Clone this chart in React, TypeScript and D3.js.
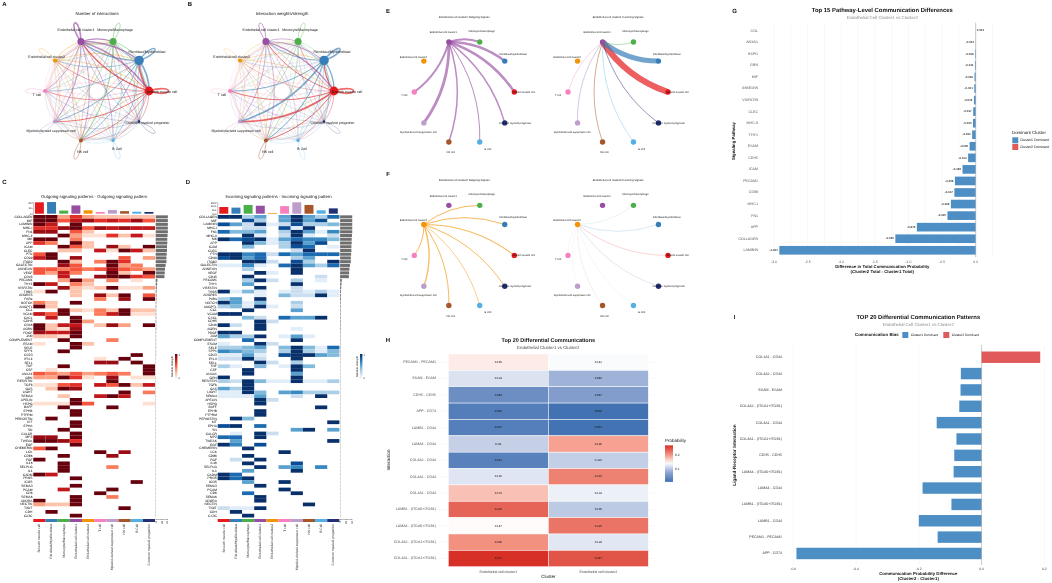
import React, { useEffect, useRef } from 'react';
import * as d3 from 'd3';

const cells = [
  'Smooth muscle cell', 'Fibroblast/Myofibroblast', 'Monocyte/Macrophage',
  'Endothelial cell cluster1', 'Endothelial cell cluster2', 'T cell',
  'Myeloid-derived suppressor cell', 'NK cell', 'B Cell', 'Common myeloid progenitor'
];
const cellColors = ['#e41a1c', '#377eb8', '#4daf4a', '#984ea3', '#f29403', '#f781bf', '#bc9dcc', '#a65628', '#54b0e4', '#222f75'];

// interaction counts, source in rows
const countMatrix = [
  [3, 3.5, 1.2, 2.5, 1, 1, 1.5, 1.2, 0.8, 0.8],
  [3, 2.5, 1.2, 2.5, 1, 1, 1.5, 1.2, 0.8, 0.8],
  [1, 1, 1, 1.2, 0.4, 0.5, 0.8, 1.5, 0.5, 0.5],
  [3, 2.5, 2, 3, 0.8, 1.2, 1.5, 1.2, 1, 1],
  [0.8, 0.8, 0.5, 0.8, 0.5, 0.4, 0.5, 0.5, 0.4, 0.4],
  [0.4, 0.4, 0.5, 0.5, 0.2, 0.5, 0.6, 0.4, 0.3, 0.3],
  [0.8, 0.6, 0.8, 0.8, 0.3, 0.5, 0.8, 0.6, 0.4, 0.4],
  [0.5, 0.4, 0.5, 0.6, 0.2, 0.4, 0.5, 1, 0.3, 0.3],
  [0.3, 0.3, 0.3, 0.4, 0.2, 0.3, 0.3, 0.3, 0.5, 0.2],
  [0.3, 0.3, 0.3, 0.4, 0.2, 0.3, 0.3, 0.3, 0.2, 0.6]
];
const weightMatrix = [
  [3, 2.2, 0.8, 1.5, 0.5, 1.6, 3, 1.7, 0.6, 0.8],
  [2.2, 3, 0.8, 1.5, 0.5, 1.6, 3, 1.7, 0.6, 1],
  [0.5, 0.4, 0.8, 0.5, 0.2, 0.3, 0.7, 0.8, 0.2, 0.2],
  [2.2, 1.5, 1, 1.4, 0.4, 0.8, 1.1, 0.9, 0.5, 0.5],
  [0.6, 0.6, 0.3, 0.5, 0.3, 0.3, 0.4, 0.5, 0.2, 0.3],
  [0.3, 0.3, 0.3, 0.3, 0.1, 0.3, 0.4, 0.3, 0.2, 0.2],
  [0.5, 0.4, 0.5, 0.5, 0.2, 0.4, 0.6, 0.4, 0.3, 0.3],
  [0.3, 0.3, 0.3, 0.4, 0.1, 0.3, 0.4, 0.9, 0.2, 0.2],
  [0.2, 0.2, 0.2, 0.3, 0.1, 0.2, 0.2, 0.2, 0.3, 0.1],
  [0.2, 0.2, 0.2, 0.2, 0.1, 0.2, 0.2, 0.2, 0.1, 0.4]
];
const countNodeSize = [4.4, 4.7, 3.5, 3.5, 2, 2, 2, 2, 1.6, 1.2];
const weightNodeSize = [4.4, 4.7, 3.5, 3.5, 2, 2, 2, 2, 1.6, 1.2];

const ec1Outgoing = [2.5, 2.5, 2, 0, 0, 2, 2.8, 1.5, 1, 1.5];
const ec1Incoming = [6, 5, 0.6, 0, 0, 0.5, 0.8, 0.7, 0.5, 0.7];
const ec2Outgoing = [1.1, 1, 1, 0, 0, 1, 1.3, 1, 0.7, 1];
const ec2Incoming = [0.6, 0.6, 0.4, 0, 0, 0.3, 0.3, 0.3, 0.3, 0.4];

const pathways = [
  'COLLAGEN', 'MIF', 'LAMININ', 'MHC-I', 'FN1', 'MHC-II', 'MK', 'APP', 'ICAM', 'CLEC', 'PTN', 'CD99', 'ITGB2',
  'GALECTIN', 'ANNEXIN', 'VEGF', 'CD45', 'PECAM1', 'THY1', 'VISFATIN', 'THBS', 'ADGRE5', 'PARs', 'NOTCH', 'ANGPTL',
  'CCL', 'VCAM', 'CXCL', 'CDH5', 'CD46', 'AGRN', 'PDGF', 'JAM', 'COMPLEMENT', 'ESAM', 'SELE', 'SPP1', 'CD23', 'IFN-II',
  'SELL', 'TNF', 'CSF', 'ANXA1', 'GRN', 'RESISTIN', 'TGFb', 'GAS', 'LIGHT', 'SEMA4', 'APELIN', 'HSPG', 'BAFF', 'EPHB',
  'PTPRM', 'PERIOSTIN', 'KIT', 'EPHA', 'SN', 'CALCR', 'MPZ', 'TWEAK', 'EGF', 'CHEMERIN', 'LCK', 'CD86', 'FGF', 'IL16',
  'SELPLG', 'IL1', 'CADM', 'PROS', 'ICOS', 'SEMA3', 'PCAM', 'CD6', 'SEMA6', 'ADORA', 'NECTIN', 'TIGIT', 'CDH', 'CX3C'
];
// one digit per cell type, 0 = empty, 9 = relative strength 1
const outgoingRows = [
  '9936322222', '9957867685', '9709000000', '6689587877', '8805200000', '0093116271', '9904000000', '6409200000',
  '0095208209', '0022071972', '5900000000', '7908000503', '0092049600', '0085009340', '5545458543', '5374009209',
  '0070089965', '0039304010', '9704200000', '0082129113', '1902000000', '0002082905', '0000040809', '4209000000',
  '9200000000', '0092142922', '7590047911', '0709000000', '0009300000', '9277028309', '9218000000', '8779000000',
  '2219000000', '0090004000', '1009200000', '0009000000', '0090000000', '0000000090', '0000010900', '0000088090',
  '0090000009', '0100000009', '5435345409', '3396108011', '0000009000', '1156075927', '0298000000', '0000000904',
  '0020079700', '0009000000', '1119500001', '0090009000', '0009000000', '0009000000', '0900000000', '0009000000',
  '0009000000', '0090000000', '0009000000', '8809000000', '9986000000', '0009000000', '5900000000', '0000090800',
  '0090008000', '9000000000', '0090000000', '0090004000', '0090000000', '9700000000', '0009000000', '0000000090',
  '0009000000', '0070009000', '0000090000', '0009004000', '9009000000', '3229000000', '0000000900', '0900000000',
  '0009000000'
];
const incomingRows = [
  '9935059537', '0083059580', '8529128334', '0022081900', '7445039516', '0091029102', '9789157664', '0094139580',
  '0040038701', '0000002900', '9967275777', '8957003500', '0099208309', '1161079537', '0030009000', '0009109000',
  '0090000020', '0039203010', '0050009000', '0009002000', '9141012131', '0001042291', '3509000000', '9514003000',
  '3419102000', '0090005000', '9900000000', '0042075590', '0009200000', '9209000000', '0009001000', '9900000000',
  '5339015100', '0070009000', '1009200000', '3345049417', '6543039314', '1151089954', '2292009000', '0009203000',
  '3104019400', '0090009000', '0090005000', '9000009000', '3294119113', '0090000000', '5390000000', '1194056333',
  '1115002090', '0009200000', '0009000000', '0000000090', '0009000000', '0009000000', '0940000000', '0000000009',
  '8907000000', '0000005905', '0109200000', '7709000000', '0500000009', '9608000000', '0090000000', '0000090000',
  '0090000000', '0209000000', '0090008000', '0009056060', '0050009000', '9700000000', '9790000000', '0050090000',
  '0009000000', '0000090000', '0070009000', '0009000000', '0009000000', '0000000900', '2119000000', '0900000000',
  '0090000000'
];
const outgoingTop = [20, 20.5, 5.5, 14.5, 6, 3, 6.5, 4.5, 3.5, 3];
const incomingTop = [8.8, 8, 11.5, 10.5, 1, 10, 15, 11.5, 4.5, 7];
const outgoingTotals = [
  43, 43, 43, 43, 43, 42, 41, 41, 40, 40, 39, 38, 38, 35, 33, 32, 31, 6, 5, 4, 3, 3, 3, 2, 2, 2, 2, 2, 2, 2, 2, 1.5, 1.5,
  1.5, 1.5, 1.5, 1.5, 1.5, 1, 1, 1, 1, 1, 1, 1, 1, 1, 1, 1, 1, 1, 1, 1, 1, 1, 1, 1, 1, 1, 1, 1, 1, 1, 1, 1, 1, 1, 1, 1,
  1, 1, 1, 1, 1, 1, 1, 1, 1, 1, 1, 1
];
const incomingTotals = [
  43, 43, 43, 43, 43, 42, 41, 41, 40, 40, 39, 38, 38, 35, 33, 32, 31, 6, 5, 4, 3, 3, 3, 2, 2, 2, 2, 2, 2, 2, 2, 1.5, 1.5,
  1.5, 1.5, 1.5, 1.5, 1.5, 1, 1, 1, 1, 1, 1, 1, 1, 1, 1, 1, 1, 1, 1, 1, 1, 1, 1, 1, 1, 1, 1, 1, 1, 1, 1, 1, 1, 1, 1, 1,
  1, 1, 1, 1, 1, 1, 1, 1, 1, 1, 1, 1
];

const lrPairs = [
  'PECAM1 - PECAM1', 'ESAM - ESAM', 'CDH5 - CDH5', 'APP - CD74', 'LAMB1 - CD44', 'LAMA4 - CD44', 'COL4A2 - CD44',
  'COL4A1 - CD44', 'COL1A1 - CD44', 'LAMB1 - (ITGA6+ITGB1)', 'LAMA4 - (ITGA6+ITGB1)', 'COL4A2 - (ITGA1+ITGB1)',
  'COL4A1 - (ITGA1+ITGB1)'
];
const probCluster1 = [0.156, 0.124, 0.048, 0.026, 0.027, 0.111, 0.031, 0.126, 0.179, 0.236, 0.147, 0.206, 0.271];
const probCluster2 = [0.142, 0.089, 0.067, 0.01, 0.011, 0.196, 0.11, 0.216, 0.134, 0.106, 0.225, 0.128, 0.247];

const topPathways = [
  'COL', 'ANXA1', 'HSPG', 'GRN', 'MIF', 'ANNEXIN', 'VISFATIN', 'CLEC', 'MHC-II', 'THY1', 'ESAM', 'CDH5', 'ICAM',
  'PECAM1', 'CD99', 'MHC-I', 'FN1', 'APP', 'COLLAGEN', 'LAMININ'
];
const pathwayDiff = [
  0.001, -0.002, -0.008, -0.011, -0.018, -0.021, -0.026, -0.037, -0.04, -0.053, -0.09, -0.113, -0.196, -0.309, -0.317,
  -0.369, -0.42, -0.875, -1.195, -2.921
];

const diffPairs = [
  'COL1A1 - CD44', 'COL4A2 - CD44', 'ESAM - ESAM', 'COL4A2 - (ITGA1+ITGB1)', 'COL4A1 - CD44', 'COL4A1 - (ITGA1+ITGB1)',
  'CDH5 - CDH5', 'LAMA4 - (ITGA6+ITGB1)', 'LAMA4 - CD44', 'LAMB1 - (ITGA6+ITGB1)', 'LAMB1 - CD44', 'PECAM1 - PECAM1',
  'APP - CD74'
];
const pairDiff = [0.187, -0.066, -0.067, -0.071, -0.143, -0.08, -0.087, -0.089, -0.188, -0.096, -0.2, -0.14, -0.59];

const FONT = '"Liberation Sans", Arial, sans-serif';
const BLUE = '#4d8fc4';
const RED = '#e05a5a';

// label anchors relative to the ring centre
const ringLabels: [number, number][] = [
  [65, 0.7], [50, -39], [18, -61.3], [-21, -61], [-50.3, -34.3], [-60, 3.7], [-46, 39.7], [-14.3, 60.7], [20, 58], [50.5, 32]
];
const smallLabels: [number, number][] = [
  [59.4, 0], [48.7, -38], [17.4, -60.7], [-21, -59.3], [-51, -34.7], [-60, 3.7], [-46, 40.3], [-13.6, 60.7], [23.7, 57], [50.7, 31]
];

type Sel = d3.Selection<any, any, any, any>;

const txt = (g: Sel, x: number, y: number, s: string, size: number, opts: any = {}) =>
  g.append('text')
    .attr('x', x).attr('y', y)
    .attr('font-size', size)
    .attr('font-family', FONT)
    .attr('text-anchor', opts.anchor || 'middle')
    .attr('dominant-baseline', 'middle')
    .attr('font-weight', opts.bold ? 700 : 400)
    .attr('fill', opts.fill || '#111')
    .attr('transform', opts.rotate ? `rotate(${opts.rotate},${x},${y})` : null)
    .text(s);

function edgePath(a: number[], b: number[], curve: number) {
  const dx = b[0] - a[0];
  const dy = b[1] - a[1];
  const path = d3.path();
  path.moveTo(a[0], a[1]);
  path.quadraticCurveTo((a[0] + b[0]) / 2 + dy * curve, (a[1] + b[1]) / 2 - dx * curve, b[0], b[1]);
  return path.toString();
}

function ringPositions(cx: number, cy: number, rx: number, ry: number) {
  const angle = d3.scaleLinear().domain([0, cells.length]).range([0, -2 * Math.PI]);
  return cells.map((_, i) => [cx + rx * Math.cos(angle(i)), cy + ry * Math.sin(angle(i))]);
}

function drawCircle(svg: Sel, cx: number, cy: number, title: string, matrix: number[][], sizes: number[]) {
  const g = svg.append('g');
  const pos = ringPositions(cx, cy, 52, 52);
  matrix.forEach((row, i) => row.forEach((v, j) => {
    if (i === j) {
      const ux = (pos[i][0] - cx) / 52;
      const uy = (pos[i][1] - cy) / 52;
      const L = 26;
      const w = 8;
      const c1 = [pos[i][0] + L * ux - w * uy, pos[i][1] + L * uy + w * ux];
      const c2 = [pos[i][0] + L * ux + w * uy, pos[i][1] + L * uy - w * ux];
      g.append('path')
        .attr('d', `M${pos[i]}C${c1} ${c2} ${pos[i]}`)
        .attr('fill', 'none').attr('stroke', cellColors[i])
        .attr('stroke-opacity', 0.65).attr('stroke-width', 0.15 + v * 0.5);
    } else {
      g.append('path')
        .attr('d', edgePath(pos[i], pos[j], 0.17))
        .attr('fill', 'none').attr('stroke', cellColors[i])
        .attr('stroke-opacity', 0.65).attr('stroke-width', 0.15 + v * 0.5);
    }
  }));
  g.selectAll('circle').data(pos).join('circle')
    .attr('cx', d => d[0]).attr('cy', d => d[1])
    .attr('r', (_, i) => sizes[i])
    .attr('fill', (_, i) => cellColors[i]);
  cells.forEach((c, i) => txt(g, cx + ringLabels[i][0], cy + ringLabels[i][1], c, 3.5));
  txt(g, cx, 14, title, 4.3);
}

function drawStar(svg: Sel, cx: number, cy: number, title: string, focus: number, widths: number[], outgoing: boolean, opacity: number) {
  const g = svg.append('g');
  const pos = ringPositions(cx, cy, 50, 52.6);
  widths.forEach((w, i) => {
    if (!w) return;
    const src = outgoing ? focus : i;
    const dst = outgoing ? i : focus;
    g.append('path')
      .attr('d', edgePath(pos[src], pos[dst], 0.17))
      .attr('fill', 'none').attr('stroke', cellColors[src])
      .attr('stroke-opacity', opacity).attr('stroke-width', w);
  });
  g.selectAll('circle').data(pos).join('circle')
    .attr('cx', d => d[0]).attr('cy', d => d[1]).attr('r', 2.7)
    .attr('fill', (_, i) => cellColors[i]);
  cells.forEach((c, i) => txt(g, cx + smallLabels[i][0], cy + smallLabels[i][1], c, 2.6));
  txt(g, cx, cy - 75, title, 2.75);
}

function drawPatternHeatmap(svg: Sel, x0: number, rows: string[], top: number[], totals: number[], topTicks: number[], topFormat: (d: number) => string, topMax: number, ramp: (t: number) => string, title: string, barTicks: number[]) {
  const g = svg.append('g');
  const x1 = x0 + 121.7;
  const x = d3.scaleBand<number>().domain(d3.range(cells.length)).range([x0, x1]);
  const y = d3.scaleBand<number>().domain(d3.range(pathways.length)).range([215, 517.5]);

  rows.forEach((row, r) => row.split('').forEach((d, c) => {
    if (d === '0') return;
    g.append('rect')
      .attr('x', x(c)!).attr('y', y(r)!)
      .attr('width', x.bandwidth()).attr('height', y.bandwidth())
      .attr('fill', ramp(+d / 9));
  }));

  const labels = g.append('g').attr('transform', `translate(${x0 - 0.8},0)`)
    .call(d3.axisLeft(y).tickSize(0).tickPadding(0).tickFormat(i => pathways[i as number]));
  labels.select('.domain').remove();
  labels.attr('font-size', 3.3).attr('font-family', FONT);

  // annotations
  const yTop = d3.scaleLinear().domain([0, topMax]).range([213.7, 202.3]);
  g.selectAll('rect.top').data(top).join('rect').attr('class', 'top')
    .attr('x', (_, i) => x(i)! + 1.6).attr('width', x.bandwidth() - 3.2)
    .attr('y', d => yTop(d)).attr('height', d => yTop(0) - yTop(d))
    .attr('fill', (_, i) => cellColors[i]);
  const ax = g.append('g').attr('transform', `translate(${x0 - 0.4},0)`)
    .call(d3.axisLeft(yTop).tickValues(topTicks).tickSize(0.8).tickPadding(0.6).tickFormat(d => topFormat(d as number)));
  ax.attr('font-size', 2.6).attr('font-family', FONT);
  ax.selectAll('path,line').attr('stroke-width', 0.25);

  cells.forEach((c, i) => {
    g.append('rect').attr('x', x(i)!).attr('y', 519).attr('width', x.bandwidth()).attr('height', 3)
      .attr('fill', cellColors[i]);
    txt(g, x(i)! + x.bandwidth() / 2, 524, c, 3.3, { anchor: 'end', rotate: -90 });
  });

  const xBar = d3.scaleLinear().domain([0, 40]).range([x1 + 0.7, x1 + 12]);
  g.selectAll('rect.total').data(totals).join('rect').attr('class', 'total')
    .attr('x', xBar(0)).attr('y', (_, i) => y(i)! + 0.35)
    .attr('width', d => xBar(d) - xBar(0)).attr('height', y.bandwidth() - 0.7)
    .attr('fill', '#6e6e6e');
  const bx = g.append('g').attr('transform', 'translate(0,519)')
    .call(d3.axisBottom(xBar).tickValues(barTicks).tickSize(1).tickPadding(0.5));
  bx.attr('font-size', 2.6).attr('font-family', FONT);
  bx.selectAll('path,line').attr('stroke-width', 0.25);
  bx.selectAll('text').attr('transform', 'rotate(-90)').attr('text-anchor', 'end').attr('dy', '0.3em').attr('x', -2).attr('y', 0);

  txt(g, (x0 + x1) / 2, 197, title, 4.3);
}

function drawStrengthLegend(svg: Sel, x: number, ramp: (t: number) => string, id: string) {
  const g = svg.append('g');
  const grad = svg.append('defs').append('linearGradient').attr('id', id)
    .attr('x1', 0).attr('x2', 0).attr('y1', 1).attr('y2', 0);
  d3.range(0, 1.01, 0.2).forEach(t => grad.append('stop').attr('offset', t).attr('stop-color', ramp(t)));
  g.append('rect').attr('x', x).attr('y', 354).attr('width', 2.4).attr('height', 25).attr('fill', `url(#${id})`);
  txt(g, x - 3, 366.5, 'Relative strength', 2.8, { rotate: -90 });
  txt(g, x + 3.4, 355, '1', 2.6, { anchor: 'start' });
  txt(g, x + 3.4, 378, '0', 2.6, { anchor: 'start' });
}

function drawCommHeatmap(svg: Sel) {
  const g = svg.append('g');
  const x = d3.scaleBand<string>().domain(['Endothelial cell cluster1', 'Endothelial cell cluster2']).range([448.3, 648.3]);
  const y = d3.scaleBand<string>().domain(lrPairs).range([354, 566.7]);
  const color = d3.scaleLinear<string>()
    .domain([0.01, 0.08, 0.145, 0.2, 0.271])
    .range(['#4272b2', '#90a6d2', '#ffffff', '#f59a88', '#d73027']);

  lrPairs.forEach((p, i) => {
    g.append('line').attr('x1', 438).attr('x2', 658).attr('y1', y(p)! + y.bandwidth() / 2).attr('y2', y(p)! + y.bandwidth() / 2)
      .attr('stroke', '#ececec').attr('stroke-width', 0.3);
    [probCluster1[i], probCluster2[i]].forEach((v, c) => {
      const col = x.domain()[c];
      g.append('rect').attr('x', x(col)!).attr('y', y(p)!).attr('width', x.bandwidth()).attr('height', y.bandwidth())
        .attr('fill', color(v)).attr('stroke', '#fff').attr('stroke-width', 0.5);
      txt(g, x(col)! + x.bandwidth() / 2, y(p)! + y.bandwidth() / 2, v.toFixed(3), 2.9);
    });
    txt(g, 436, y(p)! + y.bandwidth() / 2, p, 3.6, { anchor: 'end', fill: '#4d4d4d' });
  });
  x.domain().forEach(c => txt(g, x(c)! + x.bandwidth() / 2, 571.7, c, 3.6, { fill: '#4d4d4d' }));
  txt(g, 548.3, 577.2, 'Cluster', 4.5);
  txt(g, 388.5, 460, 'Interaction', 4.5, { rotate: -90 });
  txt(g, 548.3, 340.3, 'Top 20 Differential Communications', 5.5, { bold: true });
  txt(g, 548.3, 347.5, 'Endothelial Cluster1 vs Cluster2', 4.4, { fill: '#444' });

  const legend = d3.scaleLinear().domain([0.1, 0.2]).range([469.3, 455.3]);
  const grad = svg.append('defs').append('linearGradient').attr('id', 'probGrad')
    .attr('x1', 0).attr('x2', 0).attr('y1', 1).attr('y2', 0);
  d3.range(0, 1.01, 0.1).forEach(t => grad.append('stop').attr('offset', t).attr('stop-color', color(0.01 + t * 0.261)));
  g.append('rect').attr('x', 665).attr('y', legend(0.271)).attr('width', 8).attr('height', legend(0.01) - legend(0.271))
    .attr('fill', 'url(#probGrad)');
  txt(g, 665, 441, 'Probability', 4.5, { anchor: 'start' });
  [0.1, 0.2].forEach(t => txt(g, 675, legend(t), String(t), 3.2, { anchor: 'start' }));
}

function drawPathwayBars(svg: Sel) {
  const g = svg.append('g');
  const x = d3.scaleLinear().domain([-3, 0]).range([774, 975.7]);
  const y = d3.scaleBand<string>().domain(topPathways).range([23.5, 257.5]).padding(0.25);
  d3.range(-3, 0.26, 0.25).forEach(t => g.append('line')
    .attr('x1', x(t)).attr('x2', x(t)).attr('y1', 22.7).attr('y2', 257.3)
    .attr('stroke', '#ececec').attr('stroke-width', 0.35));
  g.selectAll('rect').data(pathwayDiff).join('rect')
    .attr('x', d => Math.min(x(d), x(0))).attr('width', d => Math.abs(x(d) - x(0)))
    .attr('y', (_, i) => y(topPathways[i])!).attr('height', y.bandwidth())
    .attr('fill', BLUE);
  g.append('line').attr('x1', x(0)).attr('x2', x(0)).attr('y1', 22.7).attr('y2', 257.3)
    .attr('stroke', '#999').attr('stroke-width', 0.5);
  pathwayDiff.forEach((d, i) => {
    const cy = y(topPathways[i])! + y.bandwidth() / 2;
    txt(g, d > 0 ? x(d) + 1 : x(d) - 1.5, cy, d.toFixed(3), 2.9, { anchor: d > 0 ? 'start' : 'end', bold: true, fill: '#333' });
    txt(g, 758, cy, topPathways[i], 3.6, { anchor: 'end', fill: '#555' });
  });
  d3.range(-3, 0.01, 0.5).forEach(t => txt(g, x(t), 262.3, t.toFixed(1), 3.5, { fill: '#555' }));
  txt(g, 882.3, 10.3, 'Top 15 Pathway-Level Communication Differences', 5.9, { bold: true });
  txt(g, 882.3, 17.7, 'Endothelial Cell Cluster1 vs Cluster2', 4.4, { fill: '#888' });
  txt(g, 734.3, 141, 'Signaling Pathway', 4.3, { bold: true, rotate: -90 });
  txt(g, 882.3, 267.3, 'Difference in Total Communication Probability', 4.3, { bold: true });
  txt(g, 882.3, 272, '(Cluster2 Total - Cluster1 Total)', 4.3, { bold: true });

  txt(g, 1012, 133.3, 'Dominant Cluster', 4.4, { anchor: 'start' });
  [['Cluster1 Dominant', BLUE], ['Cluster2 Dominant', RED]].forEach(([s, c], i) => {
    g.append('rect').attr('x', 1012.3).attr('y', 137.3 + i * 6.7).attr('width', 6).attr('height', 6).attr('fill', c);
    txt(g, 1020, 140.4 + i * 6.7, s, 3.5, { anchor: 'start' });
  });
}

function drawPairBars(svg: Sel) {
  const g = svg.append('g');
  const x = d3.scaleLinear().domain([-0.6, 0.2]).range([793.3, 1044.3]);
  const y = d3.scaleBand<string>().domain(diffPairs).range([346.6, 564.1]).padding(0.3);
  [-0.6, -0.4, -0.2, 0.2].forEach(t => g.append('line')
    .attr('x1', x(t)).attr('x2', x(t)).attr('y1', 345).attr('y2', 565)
    .attr('stroke', '#e8e8e8').attr('stroke-width', 0.35));
  g.selectAll('rect').data(pairDiff).join('rect')
    .attr('x', d => Math.min(x(d), x(0))).attr('width', d => Math.abs(x(d) - x(0)))
    .attr('y', (_, i) => y(diffPairs[i])!).attr('height', y.bandwidth())
    .attr('fill', d => (d > 0 ? RED : BLUE));
  g.append('line').attr('x1', x(0)).attr('x2', x(0)).attr('y1', 345).attr('y2', 565)
    .attr('stroke', '#999').attr('stroke-width', 0.5);
  diffPairs.forEach(p => txt(g, 782, y(p)! + y.bandwidth() / 2, p, 3.6, { anchor: 'end', fill: '#333' }));
  [-0.6, -0.4, -0.2, 0, 0.2].forEach(t => txt(g, x(t), 569.3, t.toFixed(1), 3.4, { fill: '#333' }));
  txt(g, 918.3, 317.7, 'TOP 20 Differential Communication Patterns', 5.9, { bold: true });
  txt(g, 918.3, 325, 'Endothelial Cell Cluster1 vs Cluster2', 4.4, { fill: '#888' });
  txt(g, 734.5, 455, 'Ligand-Receptor Interaction', 4.6, { bold: true, rotate: -90 });
  txt(g, 918.3, 574.3, 'Communication Probability Difference', 4.3, { bold: true });
  txt(g, 918.3, 579.3, '(Cluster2 - Cluster1)', 4.3, { bold: true });

  txt(g, 855, 335.2, 'Communication Bias', 4.4, { anchor: 'start', bold: true });
  [[902.3, 'Cluster1 Dominant', BLUE], [943.3, 'Cluster2 Dominant', RED]].forEach(([px, s, c]) => {
    g.append('rect').attr('x', px as number).attr('y', 332).attr('width', 6).attr('height', 6).attr('fill', c as string);
    txt(g, (px as number) + 8.4, 335.2, s as string, 3.3, { anchor: 'start' });
  });
}

const App: React.FC = () => {
  const svgRef = useRef<SVGSVGElement>(null);

  useEffect(() => {
    if (!svgRef.current) return;
    const svg = d3.select(svgRef.current);
    svg.selectAll('*').remove();

    drawCircle(svg, 97, 91, 'Number of interactions', countMatrix, countNodeSize);
    drawCircle(svg, 282, 91, 'Interaction weights/strength', weightMatrix, weightNodeSize);

    drawPatternHeatmap(svg, 33.3, outgoingRows, outgoingTop, outgoingTotals, [0, 10, 20], d => String(d), 20, d3.interpolateReds,
      'Outgoing signaling patterns - Outgoing signaling pattern', [0, 20, 40]);
    drawPatternHeatmap(svg, 217.7, incomingRows, incomingTop, incomingTotals, [0, 5, 10, 15], d => d.toFixed(1), 15, d3.interpolateBlues,
      'Incoming signaling patterns - Incoming signaling pattern', [0, 20, 40]);
    drawStrengthLegend(svg, 175, d3.interpolateReds, 'redLegend');
    drawStrengthLegend(svg, 360, d3.interpolateBlues, 'blueLegend');

    drawStar(svg, 464.3, 92, 'Endothelial cell cluster1 Outgoing Signals', 3, ec1Outgoing, true, 0.65);
    drawStar(svg, 618, 92, 'Endothelial cell cluster1 Incoming Signals', 3, ec1Incoming, false, 0.7);
    drawStar(svg, 464.3, 255.4, 'Endothelial cell cluster2 Outgoing Signals', 4, ec2Outgoing, true, 0.65);
    drawStar(svg, 618, 255.4, 'Endothelial cell cluster2 Incoming Signals', 4, ec2Incoming, false, 0.3);

    drawCommHeatmap(svg);
    drawPathwayBars(svg);
    drawPairBars(svg);

    const panels: [string, number, number][] = [
      ['A', 4.5, 4.5], ['B', 190, 4.5], ['C', 4.5, 182], ['D', 188, 182], ['E', 388, 11], ['F', 388, 174],
      ['H', 388, 340.5], ['G', 734.5, 11], ['I', 734.5, 317.5]
    ];
    panels.forEach(([s, x, y]) => txt(svg, x, y, s, 6, { bold: true }));
  }, []);

  return (
    <svg
      ref={svgRef}
      width={1052}
      height={583}
      style={{ position: 'absolute', left: 0, top: 0, background: '#ffffff', textRendering: 'geometricPrecision', filter: 'blur(0.3px)' }}
    />
  );
};

export default App;
